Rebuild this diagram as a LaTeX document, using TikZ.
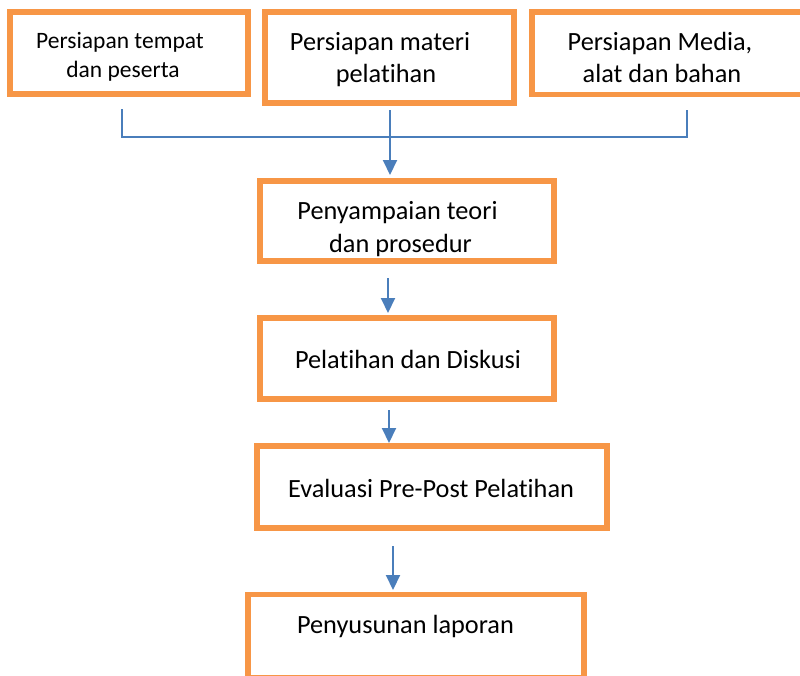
\documentclass[tikz,border=0pt]{standalone}
\usepackage{fontspec}
\setmainfont{Carlito}[Ligatures={NoCommon},RawFeature={-liga}]
\usetikzlibrary{arrows.meta,calc}
\definecolor{boxorange}{HTML}{F79646}
\definecolor{linkblue}{HTML}{4A7EBB}
\begin{document}
\begin{tikzpicture}[x=1pt,y=-1pt,
  box/.style={draw=boxorange,line width=5.5pt,fill=none,inner sep=0pt,outer sep=0pt},
  big/.style={anchor=base,inner sep=0pt,font=\fontsize{26.3}{32}\selectfont},
  small/.style={anchor=base,inner sep=0pt,font=\fontsize{23.5}{29}\selectfont},
  conn/.style={draw=linkblue,line width=2pt},
  arr/.style={conn,-{Triangle[width=14pt,length=15pt]}}]
\useasboundingbox (0,0) rectangle (800,675);
\begin{scope}
\clip (0,0) rectangle (800,675);
% boxes
\node[box,minimum width=238pt,minimum height=82pt] (b1) at (129,53) {};
\node[box,minimum width=249pt,minimum height=91pt] (b2) at (389.5,57.5) {};
\node[box,minimum width=278pt,minimum height=82.5pt] (b3) at (671,53.25) {};
\node[box,minimum width=294pt,minimum height=80pt] (b4) at (407,221) {};
\node[box,minimum width=294pt,minimum height=81pt] (b5) at (407,358.5) {};
\node[box,minimum width=350pt,minimum height=82pt] (b6) at (432,487) {};
\node[box,minimum width=336pt,minimum height=83.5pt] (b7) at (416,636.25) {};
% texts
\node[small] (t1a) at (120,48) {Persiapan tempat};
\node[small] (t1b) at (123,77) {dan peserta};
\node[big] (t2a) at (380,50) {Persiapan materi};
\node[big] (t2b) at (386,82) {pelatihan};
\node[big] (t3a) at (660,50) {Persiapan Media,};
\node[big] (t3b) at (662,82) {alat dan bahan};
\node[big] (t4a) at (397.5,219) {Penyampaian teori};
\node[big] (t4b) at (400.5,252) {dan prosedur};
\node[big] (t5) at (408,368) {Pelatihan dan Diskusi};
\node[big] (t6) at (431,497) {Evaluasi Pre-Post Pelatihan};
\node[big] (t7) at (405.5,633) {Penyusunan laporan};
% connectors
\coordinate (j1) at (122,137);
\coordinate (j2) at (390,137);
\coordinate (j3) at (687,137);
\coordinate (a2) at (388,0);
\coordinate (a3) at (389,0);
\coordinate (a4) at (393,0);
\draw[conn] ($(b1.south -| j1)+(0,15)$) -- (j1) -- (j3) -- ($(b3.south -| j3)+(0,15.5)$);
\draw[arr,shorten >=6pt] ($(b2.south -| j2)+(0,7)$) -- (b4.north -| j2);
\draw[arr,shorten >=5pt] ($(b4.south -| a2)+(0,17)$) -- (b5.north -| a2);
\draw[arr,shorten >=3pt] ($(b5.south -| a3)+(0,11)$) -- (b6.north -| a3);
\draw[arr,shorten >=4.5pt] ($(b6.south -| a4)+(0,18)$) -- (b7.north -| a4);
\end{scope}
\end{tikzpicture}
\end{document}
